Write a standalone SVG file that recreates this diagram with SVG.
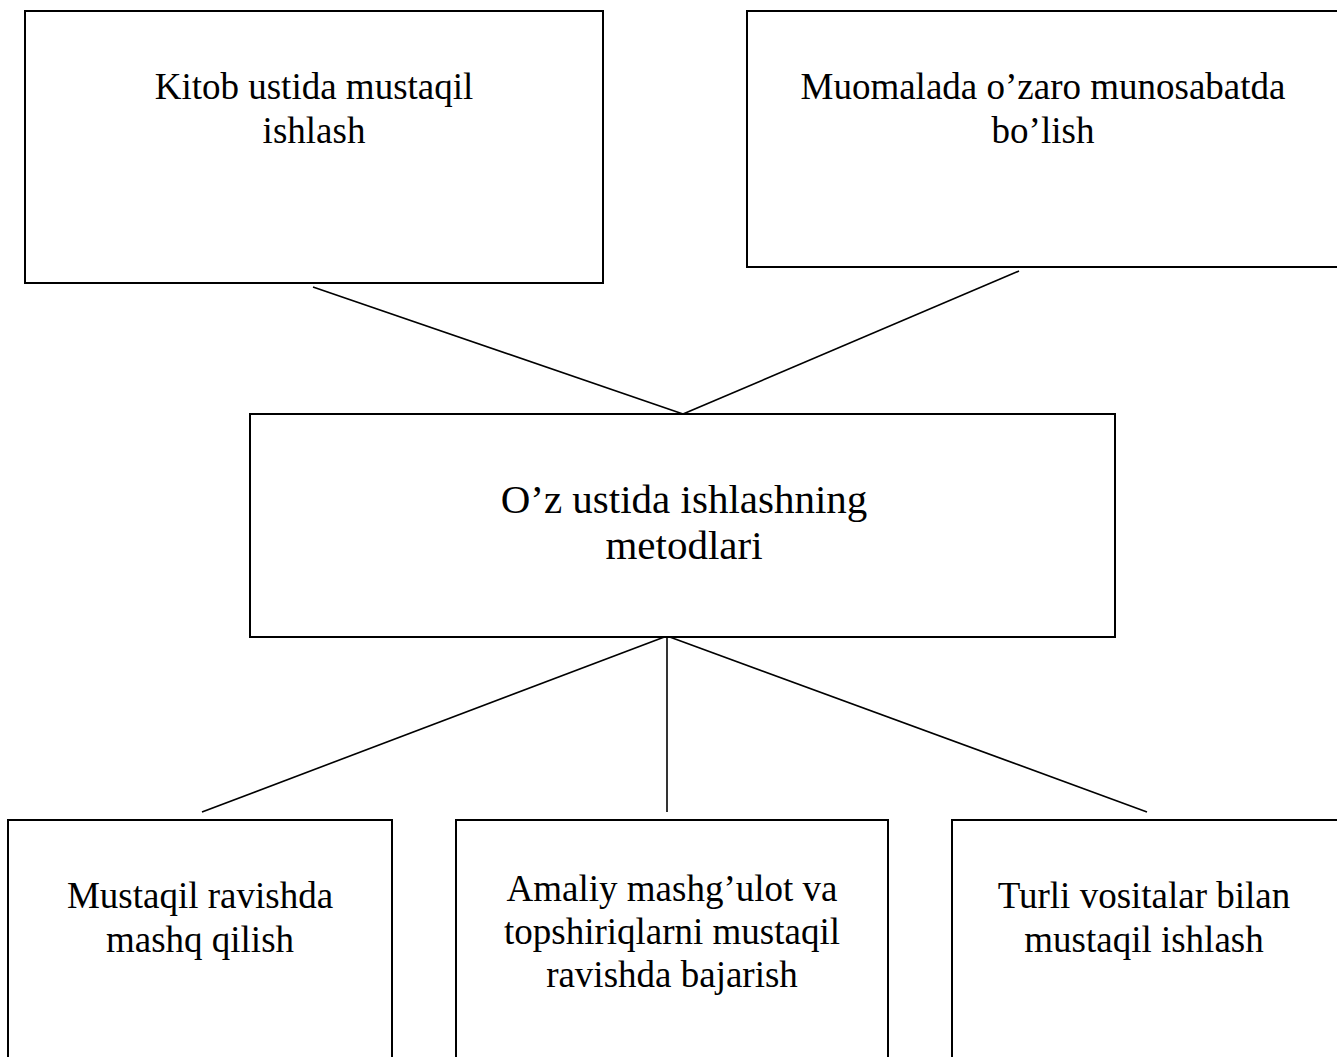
<svg xmlns="http://www.w3.org/2000/svg" width="1337" height="1057" viewBox="0 0 1337 1057">
<style>
.box{fill:#fff;stroke:#000;stroke-width:2}
.t{font-family:"Liberation Serif","Times New Roman",serif;font-size:37px;fill:#000;text-anchor:middle}
.tc{font-size:41px}
.c line{stroke:#000;stroke-width:1.6}
</style>
<rect width="1337" height="1057" fill="#fff"/>
<g class="c" id="connectors">
<line x1="313" y1="287" x2="683" y2="414"/>
<line x1="1019" y1="271" x2="683" y2="414"/>
<line x1="667" y1="636" x2="202" y2="812"/>
<line x1="667" y1="636" x2="667" y2="812"/>
<line x1="667" y1="636" x2="1147" y2="812"/>
</g>
<g id="n1"><rect class="box" x="25" y="11" width="578" height="272"/>
<text class="t" x="314" y="99">Kitob ustida mustaqil</text><text class="t" x="314" y="143">ishlash</text></g>
<g id="n2"><rect class="box" x="747" y="11" width="600" height="256"/>
<text class="t" x="1043" y="99">Muomalada o’zaro munosabatda</text><text class="t" x="1043" y="143">bo’lish</text></g>
<g id="center"><rect class="box" x="250" y="414" width="865" height="223"/>
<text class="t tc" x="684" y="513">O’z ustida ishlashning</text><text class="t tc" x="684" y="559">metodlari</text></g>
<g id="b1"><rect class="box" x="8" y="820" width="384" height="250"/>
<text class="t" x="200" y="908">Mustaqil ravishda</text><text class="t" x="200" y="952">mashq qilish</text></g>
<g id="b2"><rect class="box" x="456" y="820" width="432" height="250"/>
<text class="t" x="672" y="901">Amaliy mashg’ulot va</text><text class="t" x="672" y="944">topshiriqlarni mustaqil</text><text class="t" x="672" y="987">ravishda bajarish</text></g>
<g id="b3"><rect class="box" x="952" y="820" width="400" height="250"/>
<text class="t" x="1144" y="908">Turli vositalar bilan</text><text class="t" x="1144" y="952">mustaqil ishlash</text></g>
</svg>
